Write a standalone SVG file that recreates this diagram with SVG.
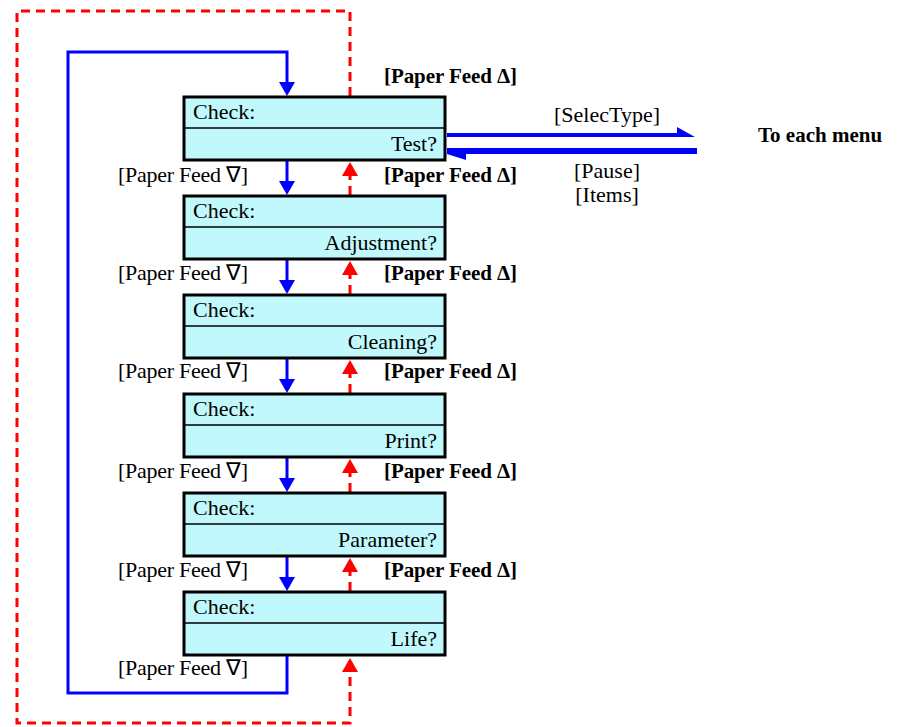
<svg xmlns="http://www.w3.org/2000/svg" width="902" height="727" viewBox="0 0 902 727">
<style>
text{font-family:"Liberation Serif","Times New Roman",serif;font-size:22px;fill:#000}
.b{font-weight:bold;font-size:21px}
.r{text-anchor:end}
.m{text-anchor:middle}
.box{fill:#c0f8fc;stroke:#000;stroke-width:3}
.div{stroke:#000;stroke-width:1.5}
.blue{stroke:#0000ff;stroke-width:3;fill:none}
.red{stroke:#ff0000;stroke-width:3;fill:none;stroke-dasharray:9,6}
.bh{fill:#0000ff}
.rh{fill:#ff0000}
</style>
<rect width="902" height="727" fill="#fff"/>
<g id="connectors">
<path class="red" d="M350,96 V11 H17 V723 H350 V672"/>
<path class="blue" d="M287,82 V52 H68 V693 H287 V656"/>
<path class="bh" d="M279,82 H295 L287,96 Z"/>
<g id="down-arrows">
<line class="blue" x1="287" y1="160" x2="287" y2="182"/><path class="bh" d="M279,181 H295 L287,195 Z"/>
<line class="blue" x1="287" y1="259" x2="287" y2="281"/><path class="bh" d="M279,280 H295 L287,294 Z"/>
<line class="blue" x1="287" y1="358" x2="287" y2="380"/><path class="bh" d="M279,379 H295 L287,393 Z"/>
<line class="blue" x1="287" y1="457" x2="287" y2="479"/><path class="bh" d="M279,478 H295 L287,492 Z"/>
<line class="blue" x1="287" y1="556" x2="287" y2="578"/><path class="bh" d="M279,577 H295 L287,591 Z"/>
</g>
<g id="up-arrows">
<line class="red" x1="350" y1="195" x2="350" y2="176"/><path class="rh" d="M342,176 H358 L350,162 Z"/>
<line class="red" x1="350" y1="294" x2="350" y2="275"/><path class="rh" d="M342,275 H358 L350,261 Z"/>
<line class="red" x1="350" y1="393" x2="350" y2="374"/><path class="rh" d="M342,374 H358 L350,360 Z"/>
<line class="red" x1="350" y1="492" x2="350" y2="473"/><path class="rh" d="M342,473 H358 L350,459 Z"/>
<line class="red" x1="350" y1="591" x2="350" y2="572"/><path class="rh" d="M342,572 H358 L350,558 Z"/>
<path class="rh" d="M342,672 H358 L350,658 Z"/>
</g>
<path class="bh" d="M447,133 H677 L677,127 L695,137 H447 Z"/>
<path class="bh" d="M447,148 H697 V154 H466 V160 L447,154 Z"/>
</g>
<g id="labels">
<text class="b" x="384" y="83" textLength="133">[Paper Feed Δ]</text>
<text x="118" y="182" textLength="130">[Paper Feed ∇]</text><text class="b" x="384" y="182" textLength="133">[Paper Feed Δ]</text>
<text x="118" y="280" textLength="130">[Paper Feed ∇]</text><text class="b" x="384" y="280" textLength="133">[Paper Feed Δ]</text>
<text x="118" y="378" textLength="130">[Paper Feed ∇]</text><text class="b" x="384" y="378" textLength="133">[Paper Feed Δ]</text>
<text x="118" y="478" textLength="130">[Paper Feed ∇]</text><text class="b" x="384" y="478" textLength="133">[Paper Feed Δ]</text>
<text x="118" y="577" textLength="130">[Paper Feed ∇]</text><text class="b" x="384" y="577" textLength="133">[Paper Feed Δ]</text>
<text x="118" y="675" textLength="130">[Paper Feed ∇]</text>
<text class="m" x="607" y="122">[SelecType]</text>
<text class="m" x="607" y="178">[Pause]</text>
<text class="m" x="607" y="202">[Items]</text>
<text class="b" x="758" y="142">To each menu</text>
</g>
<g id="n1"><rect class="box" x="184" y="97" width="261" height="63"/><line class="div" x1="184" y1="128" x2="445" y2="128"/><text x="193" y="119">Check:</text><text class="r" x="437" y="151">Test?</text></g>
<g id="n2"><rect class="box" x="184" y="196" width="261" height="63"/><line class="div" x1="184" y1="227" x2="445" y2="227"/><text x="193" y="218">Check:</text><text class="r" x="437" y="250">Adjustment?</text></g>
<g id="n3"><rect class="box" x="184" y="295" width="261" height="63"/><line class="div" x1="184" y1="326" x2="445" y2="326"/><text x="193" y="317">Check:</text><text class="r" x="437" y="349">Cleaning?</text></g>
<g id="n4"><rect class="box" x="184" y="394" width="261" height="63"/><line class="div" x1="184" y1="425" x2="445" y2="425"/><text x="193" y="416">Check:</text><text class="r" x="437" y="448">Print?</text></g>
<g id="n5"><rect class="box" x="184" y="493" width="261" height="63"/><line class="div" x1="184" y1="524" x2="445" y2="524"/><text x="193" y="515">Check:</text><text class="r" x="437" y="547">Parameter?</text></g>
<g id="n6"><rect class="box" x="184" y="592" width="261" height="63"/><line class="div" x1="184" y1="623" x2="445" y2="623"/><text x="193" y="614">Check:</text><text class="r" x="437" y="646">Life?</text></g>
</svg>
